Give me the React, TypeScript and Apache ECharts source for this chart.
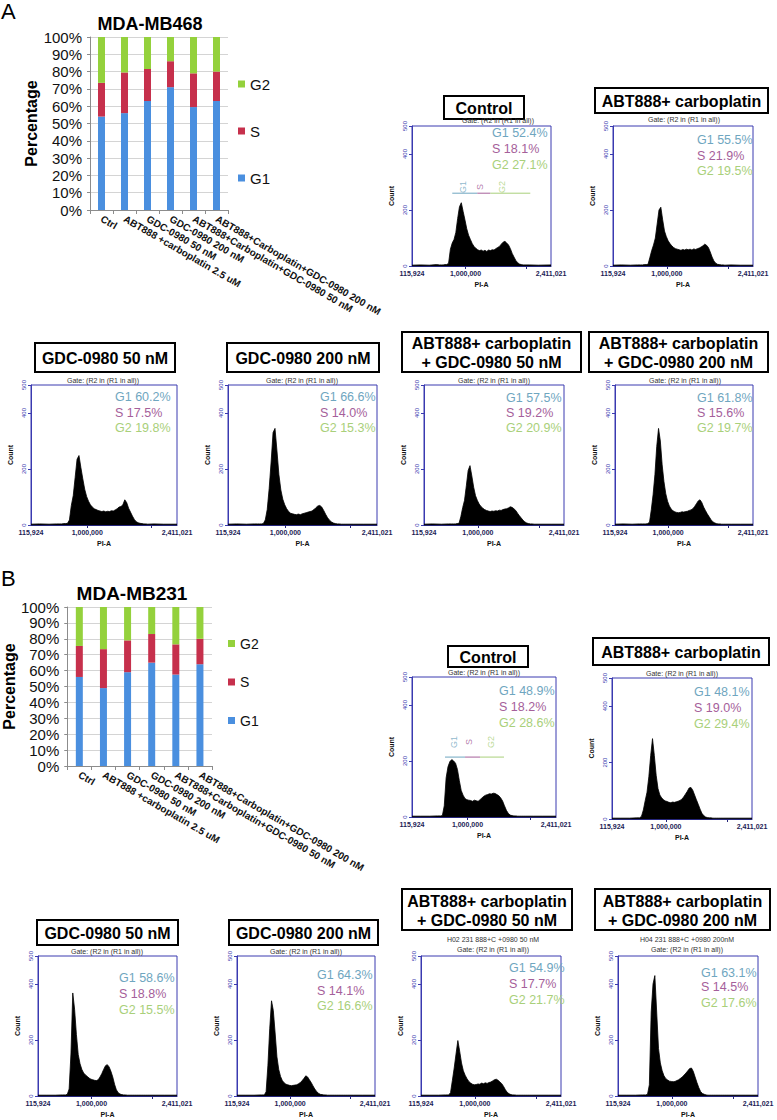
import React, { useEffect, useRef } from "react";
import * as echarts from "echarts";

const FONT = "'Liberation Sans', Arial, Helvetica, sans-serif";

// ---------- Stacked bar charts ----------
const CATEGORIES = [
  "Ctrl",
  "ABT888 +carboplatin 2.5 uM",
  "GDC-0980 50 nM",
  "GDC-0980 200 nM",
  "ABT888+Carboplatin+GDC-0980 50 nM",
  "ABT888+Carboplatin+GDC-0980 200 nM",
];
const MB468_G1 = [54, 56, 63, 71, 59.5, 63];
const MB468_S = [19.5, 23.5, 18.5, 15, 19.5, 17];
const MB468_G2 = [26.5, 20.5, 18.5, 14, 21, 20];
const MB231_G1 = [56, 49, 59, 65, 57.5, 64];
const MB231_S = [19.5, 24.5, 20, 18, 19, 16];
const MB231_G2 = [24.5, 26.5, 21, 17, 23.5, 20];
const PHASES = ["G1", "S", "G2"];
const LEGEND_ORDER = ["G2", "S", "G1"];

// ---------- Flow cytometry histograms ----------
const PI_BINS = [
  115924, 250000, 400000, 520000,
  570000, 600000, 630000, 660000, 690000,
  720000, 750000, 780000, 810000, 840000,
  870000, 900000, 930000, 960000, 990000,
  1020000, 1050000, 1080000, 1110000, 1140000,
  1170000, 1200000, 1230000, 1260000, 1290000,
  1320000, 1350000, 1380000, 1410000, 1440000,
  1470000, 1500000, 1530000, 1560000, 1590000,
  1620000, 1650000, 1680000, 1710000, 1740000,
  1770000, 1800000, 1830000, 1860000, 1890000,
  1920000, 1950000,
  2050000, 2200000, 2411021,
];
const PI_LABELS = [115924, 1000000, 2411021];
const PI_TICKS = [1000000, 2000000];
const COUNT_TICKS = [0, 200, 400, 500];

const HIST_468_CONTROL = [
  3, 4, 3, 5,
  4, 4, 4, 5, 5,
  10, 60, 82, 95, 120,
  170, 212, 226, 195, 165,
  133, 110, 95, 80, 70,
  63, 58, 55, 57, 53,
  56, 52, 57, 55, 58,
  57, 62, 66, 70, 78,
  85, 88, 82, 75, 62,
  45, 32, 20, 12, 7,
  5, 4,
  4, 3, 4,
];
const HIST_468_ABT = [
  3, 4, 3, 4,
  4, 4, 5, 5, 6,
  30, 55, 75, 100, 150,
  200, 210, 165, 125, 105,
  90, 80, 72, 66, 62,
  60, 58, 56, 59, 57,
  60, 58, 60, 57, 61,
  59, 62, 64, 68, 72,
  78, 74, 66, 50, 32,
  18, 10, 6, 5, 4,
  4, 3,
  4, 3, 3,
];
const HIST_468_GDC50 = [
  3, 4, 3, 4,
  4, 4, 5, 5, 6,
  18, 70, 105, 170, 235,
  248, 205, 165, 128, 102,
  85, 72, 64, 58, 55,
  52, 50, 48, 50, 47,
  49, 48, 51, 50, 54,
  58, 64, 66, 72, 90,
  80, 60, 46, 32, 20,
  12, 8, 6, 5, 4,
  4, 3,
  4, 3, 3,
];
const HIST_468_GDC200 = [
  3, 4, 3, 4,
  4, 4, 4, 5, 18,
  55, 130, 225, 330, 345,
  265, 180, 125, 92, 72,
  58, 48, 42, 40, 38,
  37, 39, 37, 40, 42,
  44, 46, 48, 50, 55,
  62, 68, 70, 64, 52,
  38, 26, 17, 11, 7,
  5, 4, 4, 3, 3,
  3, 3,
  3, 3, 3,
];
const HIST_468_COMBO50 = [
  3, 4, 3, 4,
  4, 4, 4, 5, 6,
  30, 62, 88, 140, 195,
  212, 175, 135, 105, 88,
  75, 66, 60, 55, 52,
  50, 48, 50, 49, 51,
  50, 53, 52, 55, 57,
  58, 61, 65, 63, 58,
  52, 42, 33, 25, 17,
  11, 7, 5, 4, 4,
  3, 3,
  3, 3, 3,
];
const HIST_468_COMBO200 = [
  3, 4, 3, 4,
  4, 4, 4, 5, 10,
  55, 110, 180, 280, 345,
  300, 215, 155, 112, 85,
  68, 57, 51, 47, 45,
  44, 45, 47, 46, 48,
  49, 52, 54, 58, 66,
  76, 86, 90, 80, 64,
  52, 40, 30, 20, 12,
  8, 5, 4, 4, 3,
  3, 3,
  3, 3, 3,
];
const HIST_231_CONTROL = [
  3, 3, 3, 4,
  4, 5, 40, 140, 180,
  198, 205, 200, 192, 170,
  130, 95, 78, 66, 62,
  60, 59, 56, 60, 58,
  56, 62, 68, 74, 78,
  80, 83, 82, 85, 84,
  80, 76, 68, 57, 40,
  24, 13, 7, 5, 4,
  4, 3, 3, 3, 3,
  3, 3,
  3, 3, 3,
];
const HIST_231_ABT = [
  3, 3, 3, 4,
  4, 10, 32, 65, 95,
  150, 225, 285, 225, 155,
  108, 85, 75, 68, 64,
  62, 59, 58, 60, 59,
  61, 63, 66, 70, 78,
  88, 98, 110, 112, 102,
  85, 68, 52, 35, 20,
  12, 7, 5, 4, 4,
  3, 3, 3, 3, 3,
  3, 3,
  3, 3, 3,
];
const HIST_231_GDC50 = [
  3, 3, 3, 4,
  4, 6, 25, 150, 368,
  310, 220, 148, 115, 95,
  82, 75, 70, 64, 60,
  58, 56, 55, 58, 68,
  80, 95, 108, 112, 104,
  88, 68, 42, 22, 12,
  7, 5, 4, 4, 3,
  3, 3, 3, 3, 3,
  3, 3, 3, 3, 3,
  3, 3,
  3, 3, 3,
];
const HIST_231_GDC200 = [
  3, 3, 3, 4,
  4, 15, 110, 240, 340,
  305, 225, 140, 95, 70,
  55, 47, 42, 40, 38,
  37, 38, 39, 40, 44,
  48, 55, 63, 72, 68,
  58, 48, 36, 25, 16,
  10, 6, 5, 4, 4,
  3, 3, 3, 3, 3,
  3, 3, 3, 3, 3,
  3, 3,
  3, 3, 3,
];
const HIST_231_COMBO50 = [
  3, 3, 3, 4,
  4, 12, 55, 100, 150,
  198, 160, 118, 90, 74,
  62, 52, 46, 42, 40,
  41, 43, 42, 46, 44,
  47, 45, 48, 50, 54,
  58, 60, 56, 50, 44,
  34, 22, 13, 8, 5,
  4, 4, 3, 3, 3,
  3, 3, 3, 3, 3,
  3, 3,
  3, 3, 3,
];
const HIST_231_COMBO200 = [
  3, 3, 3, 4,
  4, 6, 40, 300, 400,
  430, 300, 170, 118, 90,
  72, 62, 57, 53, 52,
  51, 52, 55, 58, 63,
  68, 75, 82, 90, 98,
  100, 88, 68, 48, 30,
  16, 9, 6, 4, 3,
  3, 3, 3, 3, 3,
  3, 3, 3, 3, 3,
  3, 3,
  3, 3, 3,
];

// gated percentages shown on each histogram
const PCT_468_G1 = [52.4, 55.5, 60.2, 66.6, 57.5, 61.8];
const PCT_468_S = [18.1, 21.9, 17.5, 14.0, 19.2, 15.6];
const PCT_468_G2 = [27.1, 19.5, 19.8, 15.3, 20.9, 19.7];
const PCT_231_G1 = [48.9, 48.1, 58.6, 64.3, 54.9, 63.1];
const PCT_231_S = [18.2, 19.0, 18.8, 14.1, 17.7, 14.5];
const PCT_231_G2 = [28.6, 29.4, 15.5, 16.6, 21.7, 17.6];

// gate region boundaries (PI-A) and marker height (count) in control plots
const GATE_468 = [781000, 1194000, 1409000, 2069000];
const GATE_468_Y = 260;
const GATE_468_LABEL_X = [963000, 1244000, 1607000];
const GATE_468_LABEL_Y = 282;
const GATE_231 = [642000, 961000, 1200000, 1582000];
const GATE_231_Y = 214;
const GATE_231_LABEL_X = [785000, 1024000, 1375000];
const GATE_231_LABEL_Y = 268;

const PANEL_TITLES = [
  "Control",
  "ABT888+ carboplatin",
  "GDC-0980 50 nM",
  "GDC-0980 200 nM",
  "ABT888+ carboplatin\n+ GDC-0980 50 nM",
  "ABT888+ carboplatin\n+ GDC-0980 200 nM",
];
const SAMPLE_NAMES_231 = ["", "", "", "", "H02 231 888+C +0980 50 nM", "H04 231 888+C +0980 200nM"];

const C_G1 = "#4a8fdf";
const C_S = "#c6304c";
const C_G2 = "#94d13c";
const T_G1 = "#6fa6c0";
const T_S = "#a5609a";
const T_G2 = "#a9d07a";
const FRAME = "#3a3ab0";

type Panel = {
  L: number; T: number; R: number; B: number;
  counts: number[];
  box: number[];
  titleIdx: number;
  gate: number[];
  sample?: string;
  pctX: number;
  pctY: number[];
  pct: number[];
  marker?: "468" | "231";
};

function buildPanels(): Panel[] {
  const a = [HIST_468_CONTROL, HIST_468_ABT, HIST_468_GDC50, HIST_468_GDC200, HIST_468_COMBO50, HIST_468_COMBO200];
  const b = [HIST_231_CONTROL, HIST_231_ABT, HIST_231_GDC50, HIST_231_GDC200, HIST_231_COMBO50, HIST_231_COMBO200];
  const pa = (i: number) => [PCT_468_G1[i], PCT_468_S[i], PCT_468_G2[i]];
  const pb = (i: number) => [PCT_231_G1[i], PCT_231_S[i], PCT_231_G2[i]];
  return [
    { L: 412, T: 126, R: 551, B: 266, counts: a[0], box: [444, 96, 524, 119], titleIdx: 0, gate: [498, 120], pctX: 492, pctY: [133, 149, 165], pct: pa(0), marker: "468" },
    { L: 613, T: 126, R: 753, B: 266, counts: a[1], box: [595, 88, 768, 113], titleIdx: 1, gate: [684, 119], pctX: 697, pctY: [140, 156, 171], pct: pa(1) },
    { L: 31, T: 385, R: 177, B: 525, counts: a[2], box: [35, 343, 175, 372], titleIdx: 2, gate: [103, 380], pctX: 115, pctY: [397, 413, 428], pct: pa(2) },
    { L: 228, T: 385, R: 377, B: 525, counts: a[3], box: [227, 343, 379, 372], titleIdx: 3, gate: [302, 380], pctX: 320, pctY: [397, 413, 428], pct: pa(3) },
    { L: 424, T: 385, R: 564, B: 525, counts: a[4], box: [402, 332, 581, 372], titleIdx: 4, gate: [494, 380], pctX: 506, pctY: [398, 413, 428], pct: pa(4) },
    { L: 615, T: 385, R: 753, B: 525, counts: a[5], box: [589, 332, 768, 372], titleIdx: 5, gate: [685, 380], pctX: 697, pctY: [398, 413, 428], pct: pa(5) },
    { L: 412, T: 677, R: 556, B: 817, counts: b[0], box: [448, 646, 528, 667], titleIdx: 0, gate: [484, 672], pctX: 499, pctY: [691, 707, 723], pct: pb(0), marker: "231" },
    { L: 612, T: 678, R: 752, B: 819, counts: b[1], box: [593, 638, 769, 665], titleIdx: 1, gate: [682, 673], pctX: 694, pctY: [692, 708, 724], pct: pb(1) },
    { L: 38, T: 956, R: 177, B: 1096, counts: b[2], box: [37, 920, 178, 945], titleIdx: 2, gate: [107, 951], pctX: 119, pctY: [978, 994, 1010], pct: pb(2) },
    { L: 237, T: 956, R: 375, B: 1096, counts: b[3], box: [229, 920, 378, 945], titleIdx: 3, gate: [306, 951], pctX: 317, pctY: [975, 991, 1006], pct: pb(3) },
    { L: 421, T: 956, R: 561, B: 1096, counts: b[4], box: [402, 889, 572, 930], titleIdx: 4, gate: [493, 949], sample: SAMPLE_NAMES_231[4], pctX: 509, pctY: [968, 984, 1000], pct: pb(4) },
    { L: 618, T: 956, R: 758, B: 1096, counts: b[5], box: [595, 889, 770, 930], titleIdx: 5, gate: [687, 949], sample: SAMPLE_NAMES_231[5], pctX: 701, pctY: [973, 987, 1003], pct: pb(5) },
  ];
}

function txt(text: string, x: number, y: number, o: any = {}) {
  const align = o.align || "left";
  const va = o.va || "middle";
  return {
    type: "text",
    x,
    y,
    silent: true,
    style: {
      text,
      fill: o.fill || "#000",
      fontSize: o.fontSize || 12,
      fontWeight: o.fontWeight || "normal",
      fontFamily: FONT,
      align,
      verticalAlign: va,
      textAlign: align,
      textVerticalAlign: va,
      lineHeight: o.lineHeight,
    },
  };
}

function buildOption() {
  const grid: any[] = [];
  const xAxis: any[] = [];
  const yAxis: any[] = [];
  const series: any[] = [];
  const graphic: any[] = [];
  const legend: any[] = [];

  // ---- bar charts ----
  const bars = [
    { left: 90, top: 37, width: 138, height: 173, data: [MB468_G1, MB468_S, MB468_G2], nameGap: 48, legendLeft: 233, legendTop: 71.5, legendGap: 32, legendFont: 15 },
    { left: 60, top: 607, width: 152, height: 159, data: [MB231_G1, MB231_S, MB231_G2], nameGap: 43, legendLeft: 223, legendTop: 631.5, legendGap: 24.5, legendFont: 14 },
  ];
  bars.forEach((b, i) => {
    grid.push({ left: b.left, top: b.top, width: b.width, height: b.height });
    xAxis.push({
      type: "category",
      gridIndex: i,
      data: CATEGORIES,
      axisLine: { show: true, lineStyle: { color: "#8c8c8c" } },
      axisTick: { show: true, interval: 0, length: 4, lineStyle: { color: "#8c8c8c" } },
      axisLabel: { interval: 0, rotate: -30, fontSize: 10, fontWeight: "bold", color: "#111", margin: 8, fontFamily: FONT },
      splitLine: { show: false },
    });
    yAxis.push({
      type: "value",
      gridIndex: i,
      min: 0,
      max: 100,
      interval: 10,
      name: "Percentage",
      nameLocation: "middle",
      nameGap: b.nameGap,
      nameRotate: 90,
      nameTextStyle: { fontSize: 16, fontWeight: "bold", color: "#000", fontFamily: FONT },
      axisLine: { show: true, lineStyle: { color: "#8c8c8c" } },
      axisTick: { show: true, length: 3, lineStyle: { color: "#8c8c8c" } },
      axisLabel: { formatter: "{value}%", fontSize: 15, color: "#111", margin: 8, fontFamily: FONT },
      splitLine: { show: true, lineStyle: { color: "#d4d4d4", width: 1 } },
    });
    const colors = [C_G1, C_S, C_G2];
    PHASES.forEach((p, k) => {
      series.push({
        type: "bar",
        name: p,
        stack: "cc" + i,
        xAxisIndex: i,
        yAxisIndex: i,
        barWidth: 7,
        data: b.data[k],
        itemStyle: { color: colors[k] },
        silent: true,
      });
    });
    legend.push({
      orient: "vertical",
      left: b.legendLeft,
      top: b.legendTop,
      itemWidth: 7,
      itemHeight: 7,
      itemGap: b.legendGap,
      icon: "rect",
      data: LEGEND_ORDER,
      selectedMode: false,
      textStyle: { fontSize: b.legendFont, color: "#111", fontFamily: FONT },
    });
  });

  // ---- histograms ----
  const panels = buildPanels();
  const piMin = PI_BINS[0];
  const piMax = PI_BINS[PI_BINS.length - 1];
  panels.forEach((p, j) => {
    const gi = j + 2;
    grid.push({ left: p.L, top: p.T, width: p.R - p.L, height: p.B - p.T, show: true, borderColor: FRAME, borderWidth: 1, backgroundColor: "transparent" });
    xAxis.push({
      type: "value",
      gridIndex: gi,
      min: piMin,
      max: piMax,
      name: "PI-A",
      nameLocation: "middle",
      nameGap: 15,
      nameTextStyle: { fontSize: 7, fontWeight: "bold", color: "#111", fontFamily: FONT },
      axisLine: { show: true, lineStyle: { color: "#25257a", width: 1 } },
      axisTick: { show: true, customValues: PI_TICKS, length: 3, lineStyle: { color: "#25257a" } },
      axisLabel: {
        customValues: PI_LABELS,
        formatter: (v: number) => Math.round(v).toLocaleString("en-US"),
        fontSize: 7,
        fontWeight: "bold",
        color: "#1c1c55",
        margin: 4,
        fontFamily: FONT,
      },
      splitLine: { show: false },
    });
    yAxis.push({
      type: "value",
      gridIndex: gi,
      min: 0,
      max: 500,
      name: "Count",
      nameLocation: "middle",
      nameGap: 17,
      nameRotate: 90,
      nameTextStyle: { fontSize: 7, fontWeight: "bold", color: "#111", fontFamily: FONT },
      axisLine: { show: true, lineStyle: { color: FRAME, width: 1 } },
      axisTick: { show: true, customValues: COUNT_TICKS, length: 3, lineStyle: { color: FRAME } },
      axisLabel: { customValues: COUNT_TICKS, rotate: 90, fontSize: 6, color: FRAME, margin: 4, fontFamily: FONT },
      splitLine: { show: false },
    });
    series.push({
      type: "line",
      xAxisIndex: gi,
      yAxisIndex: gi,
      data: PI_BINS.map((x, k) => [x, p.counts[k]]),
      symbol: "none",
      showSymbol: false,
      lineStyle: { color: "#000", width: 0.8 },
      areaStyle: { color: "#000", opacity: 1 },
      silent: true,
    });
    if (p.marker) {
      const g = p.marker === "468" ? GATE_468 : GATE_231;
      const gy = p.marker === "468" ? GATE_468_Y : GATE_231_Y;
      const lx = p.marker === "468" ? GATE_468_LABEL_X : GATE_231_LABEL_X;
      const ly = p.marker === "468" ? GATE_468_LABEL_Y : GATE_231_LABEL_Y;
      const cols = [T_G1, T_S, T_G2];
      PHASES.forEach((ph, k) => {
        series.push({
          type: "line",
          xAxisIndex: gi,
          yAxisIndex: gi,
          data: [[g[k], gy], [g[k + 1], gy]],
          symbol: "none",
          lineStyle: { color: cols[k], width: 1 },
          silent: true,
          z: 4,
        });
        series.push({
          type: "scatter",
          xAxisIndex: gi,
          yAxisIndex: gi,
          data: [[lx[k], ly]],
          symbolSize: 1,
          itemStyle: { color: "rgba(0,0,0,0)" },
          label: { show: true, position: "inside", formatter: ph, rotate: 90, color: cols[k], fontSize: 9, fontFamily: FONT },
          silent: true,
          z: 4,
        });
      });
    }

    // title box
    const [x1, y1, x2, y2] = p.box;
    graphic.push({ type: "rect", silent: true, shape: { x: x1, y: y1, width: x2 - x1, height: y2 - y1 }, style: { fill: "#fff", stroke: "#000", lineWidth: 2 } });
    graphic.push(txt(PANEL_TITLES[p.titleIdx], (x1 + x2) / 2, (y1 + y2) / 2 + 1, { align: "center", fontSize: 16, fontWeight: "bold", lineHeight: 19 }));
    if (p.sample) graphic.push(txt(p.sample, p.gate[0], p.gate[1] - 10, { align: "center", fontSize: 7, fill: "#333" }));
    graphic.push(txt("Gate: (R2 in (R1 in all))", p.gate[0], p.gate[1], { align: "center", fontSize: 7, fill: "#333" }));
    const tc = [T_G1, T_S, T_G2];
    PHASES.forEach((ph, k) => {
      graphic.push(txt(ph + " " + p.pct[k].toFixed(1) + "%", p.pctX, p.pctY[k], { fontSize: 12.5, fill: tc[k] }));
    });
  });

  graphic.push(txt("A", 1, 11, { fontSize: 22 }));
  graphic.push(txt("B", 1, 578, { fontSize: 22 }));
  graphic.push(txt("MDA-MB468", 150, 24, { align: "center", fontSize: 18, fontWeight: "bold" }));
  graphic.push(txt("MDA-MB231", 132, 593, { align: "center", fontSize: 19, fontWeight: "bold" }));

  return {
    animation: false,
    backgroundColor: "#fff",
    textStyle: { fontFamily: FONT },
    grid,
    xAxis,
    yAxis,
    series,
    legend,
    graphic: { elements: graphic },
  };
}

export default function App() {
  const ref = useRef<HTMLDivElement>(null);
  useEffect(() => {
    if (!ref.current) return;
    const chart = echarts.init(ref.current, null, { renderer: "svg" });
    chart.setOption(buildOption());
    return () => chart.dispose();
  }, []);
  return <div ref={ref} style={{ position: "absolute", left: 0, top: 0, width: 777, height: 1120, background: "#fff" }} />;
}
